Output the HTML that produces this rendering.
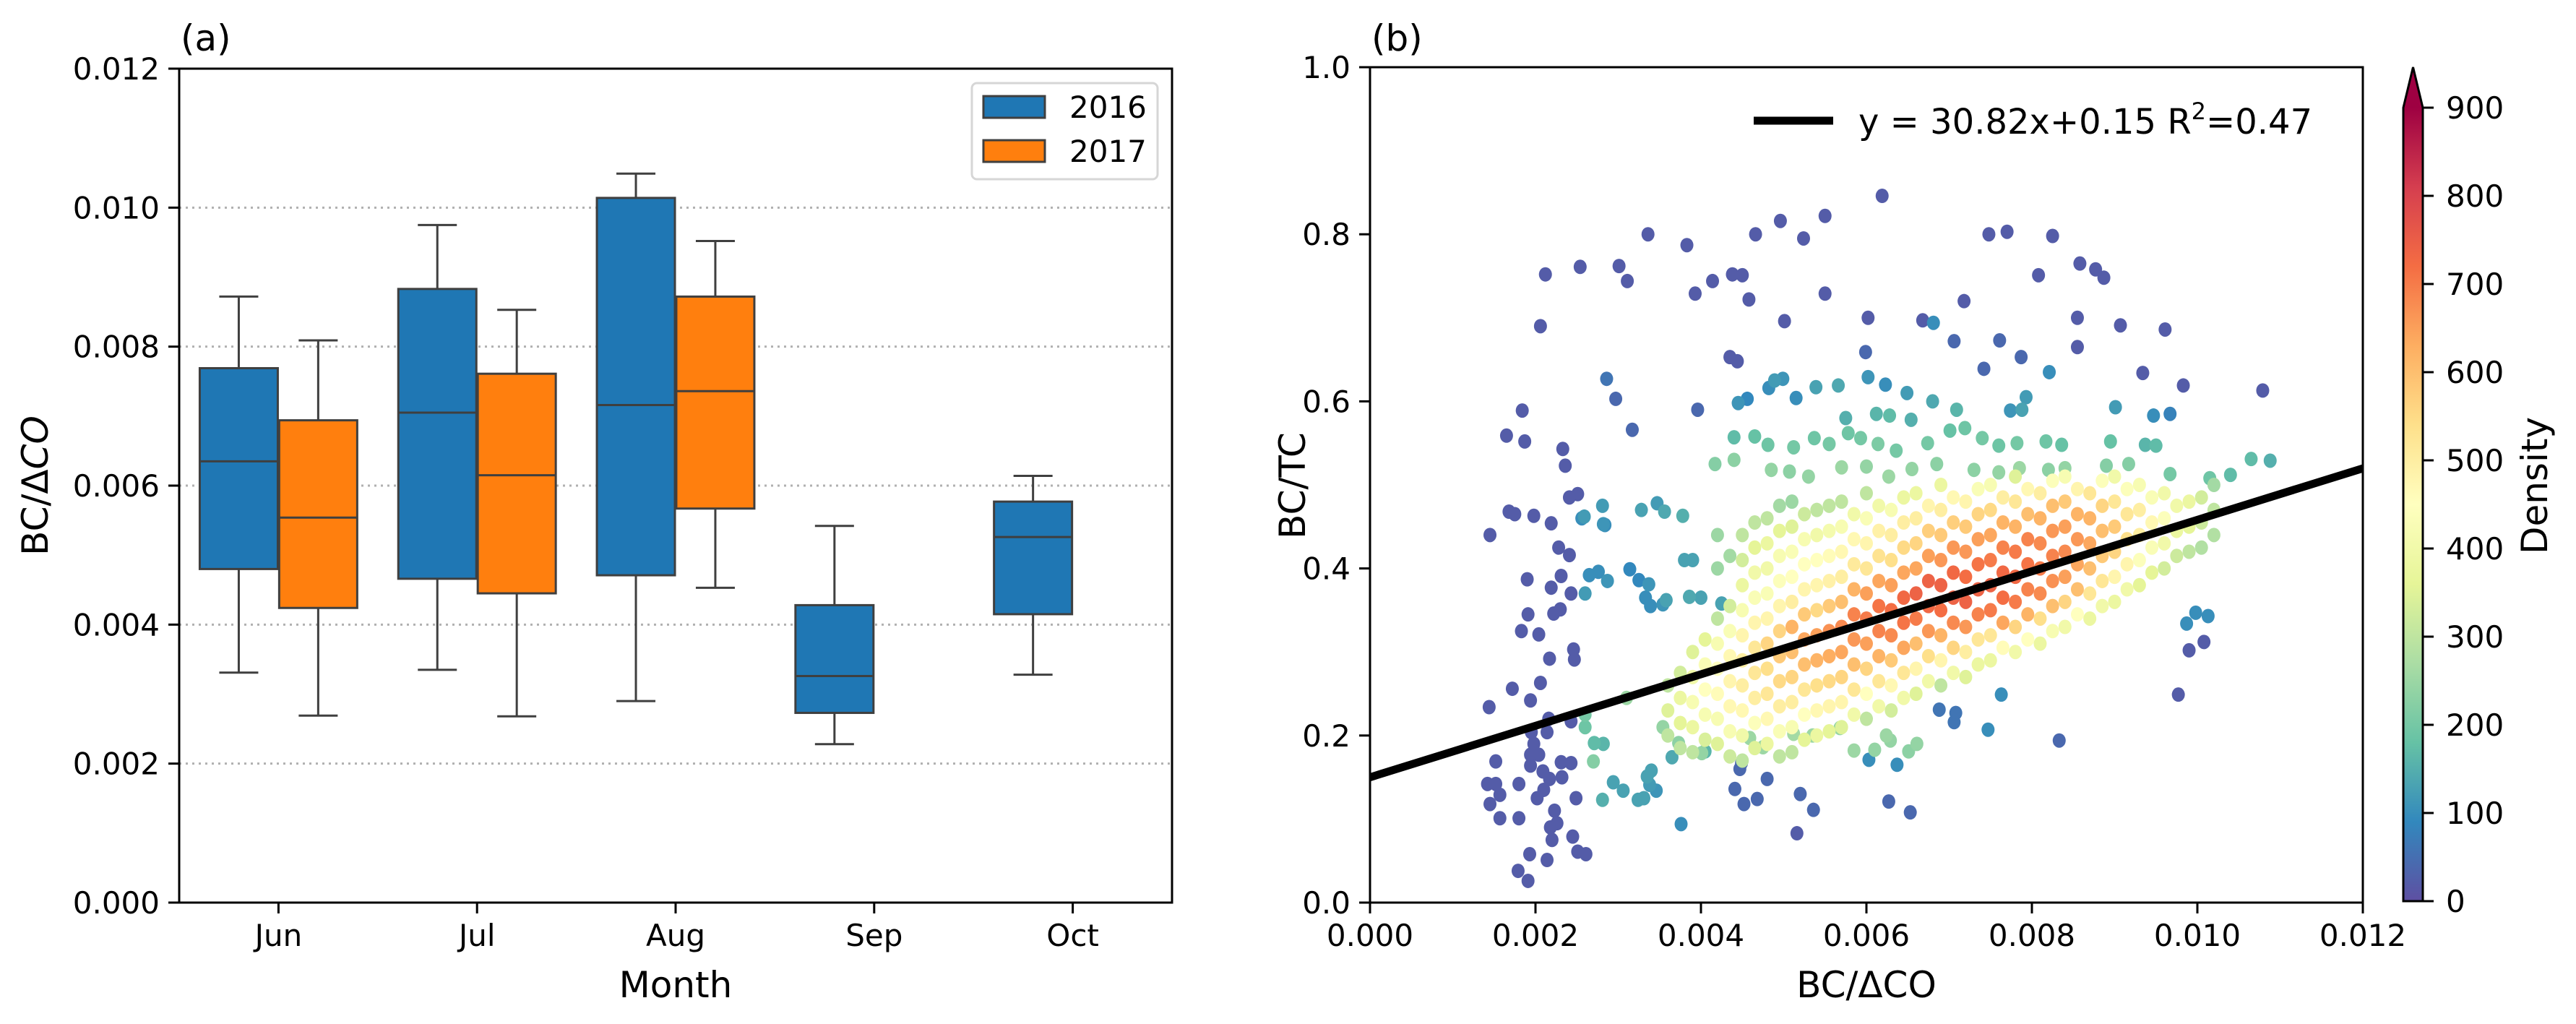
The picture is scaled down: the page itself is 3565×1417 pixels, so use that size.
<!DOCTYPE html>
<html><head><meta charset="utf-8"><style>
html,body{margin:0;padding:0;background:#fff}
svg text{font-family:"DejaVu Sans","Liberation Sans",sans-serif;fill:#000}
</style></head><body>
<svg id="fig" xmlns="http://www.w3.org/2000/svg" width="3565" height="1412" viewBox="0 0 3565 1412">
<defs>
<linearGradient id="spec" x1="0" y1="1" x2="0" y2="0">
<stop offset="0" stop-color="#5e4fa2"/><stop offset="0.1" stop-color="#3288bd"/><stop offset="0.2" stop-color="#66c2a5"/><stop offset="0.3" stop-color="#abdda4"/><stop offset="0.4" stop-color="#e6f598"/><stop offset="0.5" stop-color="#ffffbf"/><stop offset="0.6" stop-color="#fee08b"/><stop offset="0.7" stop-color="#fdae61"/><stop offset="0.8" stop-color="#f46d43"/><stop offset="0.9" stop-color="#d53e4f"/><stop offset="1" stop-color="#9e0142"/>
</linearGradient>
</defs>
<g id="left"></g>
<g id="right"></g>
</svg>
<script>
// ---------- Panel (a) data ----------
const months = ["Jun","Jul","Aug","Sep","Oct"];
const yTicksA = [0,0.002,0.004,0.006,0.008,0.010,0.012];
const yTickLabelsA = ["0.000","0.002","0.004","0.006","0.008","0.010","0.012"];
// [low whisker, Q1, median, Q3, high whisker]
const box2016 = [[0.00331,0.00480,0.00635,0.00769,0.00872],[0.00335,0.00466,0.00705,0.00883,0.00975],[0.00290,0.00471,0.00716,0.01014,0.01049],[0.00228,0.00273,0.00326,0.00428,0.00542],[0.00328,0.00415,0.00526,0.00577,0.00614]];
const box2017 = [[0.00269,0.00424,0.00554,0.00694,0.00809],[0.00268,0.00445,0.00615,0.00761,0.00853],[0.00453,0.00567,0.00736,0.00872,0.00952],null,null];
// ---------- Panel (b) data ----------
const xTicksB = [0,0.002,0.004,0.006,0.008,0.010,0.012];
const xTickLabelsB = ["0.000","0.002","0.004","0.006","0.008","0.010","0.012"];
const yTicksB = [0,0.2,0.4,0.6,0.8,1.0];
const yTickLabelsB = ["0.0","0.2","0.4","0.6","0.8","1.0"];
const cbTicks = [0,100,200,300,400,500,600,700,800,900];
const fitSlope = 30.82, fitIntercept = 0.15;
const outX = [0.00619,0.0055,0.00496,0.00466,0.00336,0.00524,0.00383,0.00748,0.0077,0.00825,0.00212,0.00254,0.00301,0.00311,0.00438,0.0045,0.00414,0.00393,0.00458,0.0055,0.00718,0.00808,0.00858,0.00877,0.00887,0.00206,0.00501,0.00602,0.00668,0.00681,0.00855,0.00761,0.00706,0.00907,0.00961,0.00855,0.00435,0.00444,0.00599,0.00742,0.00787,0.00934,0.00983,0.01079,0.00286,0.00297,0.00396,0.00184,0.00165,0.00187,0.00317,0.00233,0.00236,0.00251,0.00241,0.00145,0.00168,0.00175,0.00198,0.00219,0.00228,0.00241,0.0019,0.00219,0.00231,0.00243,0.00191,0.0023,0.00222,0.00183,0.00204,0.00246,0.00247,0.00217,0.00172,0.00206,0.00194,0.00144,0.00243,0.00216,0.00195,0.00214,0.00198,0.00194,0.00204,0.00152,0.00209,0.00194,0.00231,0.00243,0.00217,0.0018,0.00142,0.00152,0.00157,0.00145,0.0021,0.00202,0.00232,0.00249,0.00157,0.0018,0.00223,0.00218,0.00226,0.0022,0.00245,0.00251,0.00261,0.00193,0.00214,0.00179,0.00191,0.00449,0.00447,0.0048,0.00441,0.00452,0.00468,0.0052,0.00536,0.00516,0.00627,0.00653,0.00637,0.00603,0.00833,0.00977,0.0099,0.01008,0.00747,0.00763,0.00706,0.00708,0.00688,0.00987,0.00998,0.01013,
0.00456,0.00445,0.00482,0.00489,0.00499,0.00515,0.00539,0.00566,0.00602,0.00623,0.00649,0.0068,0.00709,0.00774,0.00793,0.00788,0.00821,0.00901,0.00947,0.00967,0.00575,0.00612,0.00628,0.00654,
0.00440,0.00465,0.00481,0.00512,0.00537,0.00555,0.00578,0.00593,0.00614,0.00636,0.00674,0.00701,0.00719,0.0074,0.0076,0.00782,0.00817,0.00836,0.00895,0.00937,0.0095,0.00417,0.0044,0.00485,0.00507,0.0053,0.0057,0.006,0.00627,0.00655,0.00685,0.0073,0.0076,0.00785,0.0082,0.0084,0.0089,0.00917,0.00967,0.01015,0.01065,0.01088,0.0104,
0.00256,0.00284,0.00265,0.00276,0.00287,0.00314,0.00339,0.00333,0.00325,0.00337,0.00260,0.00354,0.00358,0.00380,0.00390,0.00386,0.00400,0.00425,0.00259,0.00281,0.00282,0.00328,0.00347,0.00356,0.00378,
0.00270,0.00260,0.00260,0.00271,0.00282,0.00281,0.00294,0.00306,0.00324,0.00331,0.00338,0.00346,0.00335,0.00340,0.00365,0.00376,0.00405,
0.00310,0.00354,0.00373,0.00401,0.00459,0.00475,0.00512,0.00535,0.00568,0.00585,0.00610,0.00629,0.00651,0.00661,0.00624];
const outY = [0.846,0.822,0.816,0.8,0.8,0.795,0.787,0.8,0.803,0.798,0.752,0.761,0.762,0.744,0.752,0.751,0.744,0.729,0.722,0.729,0.72,0.751,0.765,0.758,0.748,0.69,0.696,0.7,0.697,0.694,0.7,0.673,0.672,0.691,0.686,0.665,0.653,0.648,0.659,0.639,0.653,0.634,0.619,0.613,0.627,0.603,0.59,0.589,0.559,0.552,0.566,0.543,0.523,0.489,0.485,0.44,0.468,0.465,0.463,0.454,0.425,0.416,0.387,0.377,0.391,0.37,0.345,0.351,0.346,0.325,0.321,0.303,0.291,0.292,0.256,0.263,0.242,0.234,0.217,0.22,0.204,0.204,0.19,0.177,0.177,0.169,0.157,0.164,0.168,0.167,0.148,0.142,0.142,0.142,0.129,0.118,0.135,0.125,0.15,0.125,0.101,0.101,0.11,0.09,0.095,0.075,0.079,0.061,0.058,0.058,0.051,0.038,0.026,0.167,0.16,0.148,0.136,0.118,0.124,0.13,0.111,0.083,0.121,0.108,0.165,0.171,0.194,0.249,0.302,0.312,0.207,0.249,0.216,0.227,0.231,0.334,0.347,0.343,
0.603,0.598,0.616,0.625,0.627,0.604,0.617,0.619,0.629,0.620,0.610,0.600,0.590,0.589,0.605,0.59,0.635,0.593,0.583,0.585,0.58,0.585,0.583,0.578,
0.557,0.558,0.548,0.545,0.556,0.549,0.562,0.556,0.549,0.541,0.55,0.565,0.568,0.556,0.547,0.55,0.552,0.548,0.552,0.548,0.547,0.525,0.53,0.518,0.516,0.51,0.521,0.522,0.51,0.519,0.525,0.518,0.515,0.52,0.518,0.52,0.523,0.525,0.513,0.508,0.531,0.529,0.512,
0.460,0.452,0.392,0.396,0.385,0.399,0.355,0.365,0.386,0.381,0.370,0.357,0.362,0.41,0.41,0.366,0.365,0.358,0.462,0.475,0.453,0.47,0.478,0.468,0.463,
0.169,0.225,0.21,0.191,0.19,0.123,0.144,0.134,0.123,0.125,0.141,0.134,0.151,0.158,0.174,0.094,0.181,
0.245,0.21,0.191,0.179,0.197,0.186,0.202,0.2,0.209,0.182,0.183,0.194,0.181,0.19,0.2,0.207,0.19];
const outD = [20,20,20,20,20,20,20,20,20,20,20,20,20,20,20,20,20,20,20,20,20,20,20,20,20,20,20,20,20,100,20,40,40,20,20,20,20,20,40,40,40,20,20,20,60,40,40,20,20,20,40,20,20,20,20,20,20,20,20,20,20,20,20,20,20,20,20,20,20,20,20,20,20,20,20,20,20,20,20,20,20,20,20,20,20,20,20,20,20,20,20,20,20,20,20,20,20,20,20,20,20,20,20,20,20,20,20,20,20,20,20,20,20,40,40,40,40,40,40,40,40,20,40,40,100,100,40,20,20,20,100,100,60,60,60,100,100,100,
90,110,100,120,110,100,130,140,110,100,120,140,160,110,120,130,100,120,100,80,150,160,170,150,
170,180,190,200,190,200,190,200,210,200,200,180,190,200,190,200,190,180,180,160,170,220,230,240,230,240,250,240,250,240,230,230,240,250,230,240,220,220,200,190,170,150,170,
100,100,100,100,110,90,100,100,90,110,120,110,130,130,130,140,130,130,120,120,110,130,120,140,150,
220,200,190,170,160,150,130,130,130,130,120,110,130,130,140,100,160,
250,240,230,240,250,250,260,250,240,250,240,240,230,240,250,240,230];
const blobX = [0.0036,0.00375,0.0039,0.00405,0.0042,0.00435,0.0045,0.00465,0.0048,0.00495,0.0051,0.00525,0.0054,0.00555,0.0057,0.00585,0.006,0.00615,0.0063,0.00645,0.0066,0.00675,0.0069,0.00705,0.0072,0.00735,0.0075,0.00765,0.0078,0.00795,0.0081,0.00825,0.0084,0.00855,0.0087,0.00885,0.009,0.00915,0.0093,0.00945,0.0096,0.00975,0.0099,0.01005,0.0102];
const blobY = [[0.20,0.23,0.26],[0.185,0.215,0.245,0.275],[0.18,0.21,0.24,0.27,0.30],[0.195,0.225,0.255,0.285,0.315],[0.19,0.22,0.25,0.28,0.31,0.34,0.40,0.44],[0.175,0.205,0.235,0.265,0.295,0.325,0.355,0.415],[0.17,0.20,0.23,0.26,0.29,0.32,0.35,0.38,0.41,0.44],[0.185,0.215,0.245,0.275,0.305,0.335,0.365,0.395,0.425,0.455],[0.19,0.22,0.25,0.28,0.31,0.34,0.37,0.40,0.43,0.46],[0.175,0.205,0.235,0.265,0.295,0.325,0.355,0.385,0.415,0.445,0.475],[0.18,0.21,0.24,0.27,0.30,0.33,0.36,0.39,0.42,0.45,0.48],[0.195,0.225,0.255,0.285,0.315,0.345,0.375,0.405,0.435,0.465],[0.20,0.23,0.26,0.29,0.32,0.35,0.38,0.41,0.44,0.47],[0.205,0.235,0.265,0.295,0.325,0.355,0.385,0.415,0.445,0.475],[0.21,0.24,0.27,0.30,0.33,0.36,0.39,0.42,0.45,0.48],[0.225,0.255,0.285,0.315,0.345,0.375,0.405,0.435,0.465],[0.22,0.25,0.28,0.31,0.34,0.37,0.40,0.43,0.46,0.49],[0.235,0.265,0.295,0.325,0.355,0.385,0.415,0.445,0.475],[0.23,0.26,0.29,0.32,0.35,0.38,0.41,0.44,0.47],[0.245,0.275,0.305,0.335,0.365,0.395,0.425,0.455,0.485],[0.25,0.28,0.31,0.34,0.37,0.40,0.43,0.46,0.49],[0.265,0.295,0.325,0.355,0.385,0.415,0.445,0.475],[0.26,0.29,0.32,0.35,0.38,0.41,0.44,0.47,0.50],[0.275,0.305,0.335,0.365,0.395,0.425,0.455,0.485],[0.27,0.30,0.33,0.36,0.39,0.42,0.45,0.48],[0.285,0.315,0.345,0.375,0.405,0.435,0.465,0.495],[0.29,0.32,0.35,0.38,0.41,0.44,0.47,0.50],[0.305,0.335,0.365,0.395,0.425,0.455,0.485],[0.30,0.33,0.36,0.39,0.42,0.45,0.48,0.51],[0.315,0.345,0.375,0.405,0.435,0.465,0.495],[0.31,0.34,0.37,0.40,0.43,0.46,0.49],[0.325,0.355,0.385,0.415,0.445,0.475,0.505],[0.33,0.36,0.39,0.42,0.45,0.48,0.51],[0.345,0.375,0.405,0.435,0.465,0.495],[0.34,0.37,0.40,0.43,0.46,0.49],[0.355,0.385,0.415,0.445,0.475,0.505],[0.36,0.39,0.42,0.45,0.48,0.51],[0.375,0.405,0.435,0.465,0.495],[0.38,0.41,0.44,0.47,0.50],[0.395,0.425,0.455,0.485],[0.40,0.43,0.46,0.49],[0.415,0.445,0.475],[0.42,0.45,0.48],[0.425,0.455,0.485],[0.44,0.47,0.50]];
const blobD = [[300,350,300],[300,360,380,330],[300,380,420,400,350],[340,420,450,430,360],[350,420,460,450,420,300,250,250],[320,420,470,480,470,430,330,260],[300,400,470,500,500,480,420,380,330,300],[350,440,500,520,520,480,430,400,360,300],[380,470,520,540,560,480,430,400,380,300],[300,430,500,550,580,560,480,440,420,360,260],[300,420,500,560,600,620,500,450,430,350,250],[360,450,520,600,640,580,480,450,420,320],[380,470,540,620,650,550,480,450,400,300],[360,480,550,630,670,580,490,460,410,300],[350,480,560,640,680,600,500,470,420,300],[400,520,600,660,690,620,510,470,400],[300,450,560,650,700,650,520,480,430,300],[400,520,620,690,710,640,530,490,400],[330,470,580,680,720,650,540,500,420],[400,520,640,710,730,640,550,500,380],[350,480,600,700,740,640,560,500,380],[400,540,660,730,740,650,570,480],[300,480,620,720,740,660,580,500,380],[400,560,680,740,730,660,570,470],[350,500,660,740,720,660,580,480],[380,520,690,740,710,650,560,430],[380,520,700,740,700,640,550,420],[460,640,720,730,690,620,500],[400,560,700,730,700,620,520,350],[450,620,690,710,690,600,470],[380,540,680,700,680,620,500],[420,600,670,690,660,600,440],[400,560,650,680,650,580,420],[450,600,640,660,620,480],[380,520,600,640,620,520],[400,520,580,600,560,440],[380,480,560,580,520,400],[400,480,540,520,440],[360,440,500,500,420],[360,430,470,430],[330,400,440,400],[320,380,400],[300,360,380],[280,320,330],[280,300,260]];

const NS="http://www.w3.org/2000/svg";
function mk(parent,tag,attrs,text){const e=document.createElementNS(NS,tag);for(const k in attrs)e.setAttribute(k,attrs[k]);if(text!==undefined)e.textContent=text;parent.appendChild(e);return e;}
const L=document.getElementById('left'), R=document.getElementById('right');

// ---------- Panel (a) ----------
const ax={x0:248,x1:1622,y0:1249,y1:95};
const ya=v=>ax.y0-(v/0.012)*(ax.y0-ax.y1);
const catW=(ax.x1-ax.x0)/months.length;
const cx=i=>ax.x0+(i+0.5)*catW;
yTicksA.forEach((t,i)=>{
  if(t>0&&t<0.012){const g=mk(L,'line',{x1:ax.x0,x2:ax.x1,y1:ya(t),y2:ya(t),stroke:'#b0b0b0','stroke-width':3,'stroke-dasharray':'3,6'});
  
  }
  const tk=mk(L,'line',{x1:ax.x0-15,x2:ax.x0,y1:ya(t),y2:ya(t),stroke:'#000','stroke-width':3});
  
  
  const lb=mk(L,'text',{x:ax.x0-27,y:ya(t)+15,'font-size':42,'text-anchor':'end'},yTickLabelsA[i]);
  
  
});
function drawBox(q,center,color,name){
  const w=108,cw=54;
  const g=mk(L,'g',{});
  
  
  const st={stroke:'#3f3f3f','stroke-width':3};
  mk(g,'line',Object.assign({x1:center,x2:center,y1:ya(q[0]),y2:ya(q[1])},st));
  mk(g,'line',Object.assign({x1:center,x2:center,y1:ya(q[3]),y2:ya(q[4])},st));
  mk(g,'line',Object.assign({x1:center-cw/2,x2:center+cw/2,y1:ya(q[0]),y2:ya(q[0])},st));
  mk(g,'line',Object.assign({x1:center-cw/2,x2:center+cw/2,y1:ya(q[4]),y2:ya(q[4])},st));
  mk(g,'rect',Object.assign({x:center-w/2,y:ya(q[3]),width:w,height:ya(q[1])-ya(q[3]),fill:color},st));
  mk(g,'line',Object.assign({x1:center-w/2,x2:center+w/2,y1:ya(q[2]),y2:ya(q[2])},st));
}
months.forEach((m,i)=>{
  if(box2016[i]) drawBox(box2016[i],cx(i)-0.2*catW,'#1f77b4','box-2016-'+m.toLowerCase());
  if(box2017[i]) drawBox(box2017[i],cx(i)+0.2*catW,'#ff7f0e','box-2017-'+m.toLowerCase());
  const tk=mk(L,'line',{x1:cx(i),x2:cx(i),y1:ax.y0,y2:ax.y0+15,stroke:'#000','stroke-width':3});
  
  
  const lb=mk(L,'text',{x:cx(i),y:1309,'font-size':42,'text-anchor':'middle'},m);
  
  
});
const fa=mk(L,'rect',{x:ax.x0,y:ax.y1,width:ax.x1-ax.x0,height:ax.y0-ax.y1,fill:'none',stroke:'#000','stroke-width':3});


</script>
<script>
// static labels & legend for (a)
(function(){
const L=document.getElementById('left');
L.insertAdjacentHTML('beforeend',
 '<text x="250" y="70" font-size="50">(a)</text>'+
 '<text x="935" y="1380" font-size="50" text-anchor="middle">Month</text>'+
 '<text transform="translate(66,672) rotate(-90)" font-size="50" text-anchor="middle">BC/Δ<tspan font-style="italic">CO</tspan></text>'+
 '<g><rect x="1345" y="115" width="257" height="133" rx="7" fill="#fff" fill-opacity="0.8" stroke="#d6d6d6" stroke-width="3"/>'+
 '<rect x="1361" y="133" width="85" height="30" fill="#1f77b4" stroke="#3f3f3f" stroke-width="3"/>'+
 '<text x="1480" y="163" font-size="42">2016</text>'+
 '<rect x="1361" y="194" width="85" height="30" fill="#ff7f0e" stroke="#3f3f3f" stroke-width="3"/>'+
 '<text x="1480" y="224" font-size="42">2017</text></g>');
})();
</script>
<script>
// ---------- Panel (b) ----------
(function(){
const NS="http://www.w3.org/2000/svg";
function mk(parent,tag,attrs,text){const e=document.createElementNS(NS,tag);for(const k in attrs)e.setAttribute(k,attrs[k]);if(text!==undefined)e.textContent=text;parent.appendChild(e);return e;}
const R=document.getElementById('right');
const bx={x0:1896,x1:3270,y0:1249,y1:93};
const xs=v=>bx.x0+(v/0.012)*(bx.x1-bx.x0);
const ys=v=>bx.y0-v*(bx.y0-bx.y1);
const stops=[[94,79,162],[50,136,189],[102,194,165],[171,221,164],[230,245,152],[255,255,191],[254,224,139],[253,174,97],[244,109,67],[213,62,79],[158,1,66]];
function cmap(d){let t=Math.max(0,Math.min(1,d/900))*10;const i=Math.min(9,Math.floor(t));const f=t-i;const a=stops[i],b=stops[i+1];
 return 'rgb('+[0,1,2].map(k=>Math.round(a[k]+(b[k]-a[k])*f)).join(',')+')';}
const clip=mk(R,'clipPath',{id:'clipb'});mk(clip,'rect',{x:bx.x0,y:bx.y1,width:bx.x1-bx.x0,height:bx.y0-bx.y1});
const pts=[];
outX.forEach((x,i)=>pts.push([x,outY[i],outD[i]]));
blobX.forEach((x,i)=>blobY[i].forEach((y,j)=>pts.push([x,y,blobD[i][j]])));
pts.sort((a,b)=>a[2]-b[2]);
const pg=mk(R,'g',{});


pts.forEach(p=>{
  const c=mk(pg,'ellipse',{cx:xs(p[0]),cy:ys(p[1]),rx:9,ry:10,fill:cmap(p[2])});
  
  
});
const fl=mk(R,'line',{x1:xs(0),y1:ys(fitIntercept),x2:xs(0.012),y2:ys(fitIntercept+fitSlope*0.012),stroke:'#000','stroke-width':11,'clip-path':'url(#clipb)'});


xTicksB.forEach((t,i)=>{
  const tk=mk(R,'line',{x1:xs(t),x2:xs(t),y1:bx.y0,y2:bx.y0+15,stroke:'#000','stroke-width':3});
  
  
  const lb=mk(R,'text',{x:xs(t),y:1309,'font-size':42,'text-anchor':'middle'},xTickLabelsB[i]);
  
  
});
yTicksB.forEach((t,i)=>{
  const tk=mk(R,'line',{x1:bx.x0-15,x2:bx.x0,y1:ys(t),y2:ys(t),stroke:'#000','stroke-width':3});
  
  
  const lb=mk(R,'text',{x:bx.x0-27,y:ys(t)+15,'font-size':42,'text-anchor':'end'},yTickLabelsB[i]);
  
  
});
const fb=mk(R,'rect',{x:bx.x0,y:bx.y1,width:bx.x1-bx.x0,height:bx.y0-bx.y1,fill:'none',stroke:'#000','stroke-width':3});


// colorbar
const cb={x0:3326,x1:3353,y0:1247,y1:149,tip:93};
const cy=v=>cb.y0-(v/900)*(cb.y0-cb.y1);
const cbr=mk(R,'rect',{x:cb.x0,y:cb.y1,width:cb.x1-cb.x0,height:cb.y0-cb.y1,fill:'url(#spec)'});


const tri=mk(R,'path',{d:`M${cb.x0},${cb.y1} L${(cb.x0+cb.x1)/2},${cb.tip} L${cb.x1},${cb.y1} Z`,fill:'#9e0142'});


const ol=mk(R,'path',{d:`M${cb.x0},${cb.y0} L${cb.x0},${cb.y1} L${(cb.x0+cb.x1)/2},${cb.tip} L${cb.x1},${cb.y1} L${cb.x1},${cb.y0} Z`,fill:'none',stroke:'#000','stroke-width':3});


cbTicks.forEach(t=>{
  const tk=mk(R,'line',{x1:cb.x1,x2:cb.x1+15,y1:cy(t),y2:cy(t),stroke:'#000','stroke-width':3});
  
  
  const lb=mk(R,'text',{x:3385,y:cy(t)+15,'font-size':42},String(t));
  
  
});
R.insertAdjacentHTML('beforeend',
 '<text x="1898" y="70" font-size="50">(b)</text>'+
 '<text x="2583" y="1380" font-size="50" text-anchor="middle">BC/ΔCO</text>'+
 '<text transform="translate(1806,672) rotate(-90)" font-size="50" text-anchor="middle">BC/TC</text>'+
 '<text transform="translate(3525,672) rotate(-90)" font-size="50" text-anchor="middle">Density</text>'+
 '<g><line x1="2427" y1="167" x2="2537" y2="167" stroke="#000" stroke-width="11"/>'+
 '<text x="2572" y="185" font-size="48">y = 30.82x+0.15 R<tspan font-size="32" dy="-20">2</tspan><tspan dy="20">=0.47</tspan></text></g>');
})();
</script>
</body></html>
